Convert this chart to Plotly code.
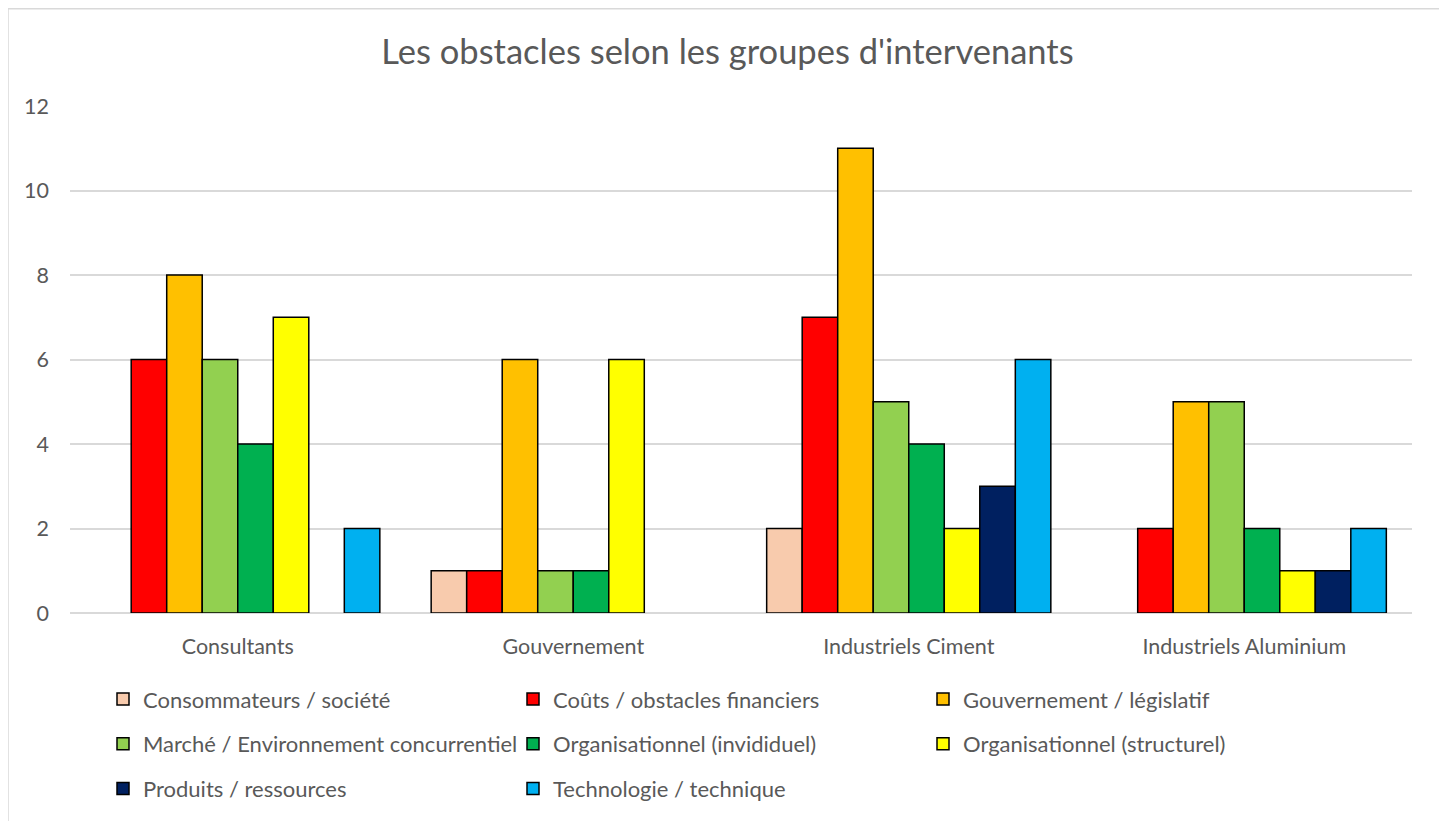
import plotly.graph_objects as go

# data
groups = ["Consultants", "Gouvernement", "Industriels Ciment", "Industriels Aluminium"]

consommateurs = [0, 1, 2, 0]
couts = [6, 1, 7, 2]
gouvernement = [8, 6, 11, 5]
marche = [6, 1, 5, 5]
org_individuel = [4, 1, 4, 2]
org_structurel = [7, 6, 2, 1]
produits = [0, 0, 3, 1]
technologie = [2, 0, 6, 2]

series = [
    ("Consommateurs / société", consommateurs, "#F8CBAD", "legend"),
    ("Coûts / obstacles financiers", couts, "#FF0000", "legend"),
    ("Gouvernement / législatif", gouvernement, "#FFC000", "legend"),
    ("Marché / Environnement concurrentiel", marche, "#92D050", "legend2"),
    ("Organisationnel (invididuel)", org_individuel, "#00B050", "legend2"),
    ("Organisationnel (structurel)", org_structurel, "#FFFF00", "legend2"),
    ("Produits / ressources", produits, "#002060", "legend3"),
    ("Technologie / technique", technologie, "#00B0F0", "legend3"),
]

# page body adds an 8px margin, so the figure is shifted by OFF
OFF = 8
W, H = 1447 - OFF, 821 - OFF
L, R, T, B = 70 - OFF, 35, 106 - OFF, 204
pw, ph = W - L - R, H - T - B


def px_x(x):  # reference pixel -> paper x
    return (x - OFF - L) / pw


def px_y(y):  # reference pixel -> paper y
    return (T + ph - (y - OFF)) / ph


fig = go.Figure()
for name, vals, color, leg in series:
    # zero counts draw no bar at all (like Excel), not a flat outline
    fig.add_trace(go.Bar(
        x=groups, y=[v if v else None for v in vals], name=name, legend=leg,
        marker=dict(color=color, line=dict(color="black", width=1.5)),
    ))

font = "Lato, Open Sans, sans-serif"
txt = "#595959"


def legend_at(y):
    return dict(
        orientation="h", x=px_x(103), xanchor="left",
        y=px_y(y), yanchor="middle",
        entrywidth=365, entrywidthmode="pixels",
        font=dict(family=font, size=22, color=txt),
        bgcolor="rgba(0,0,0,0)", itemclick=False,
    )


fig.update_layout(
    width=W, height=H,
    margin=dict(l=L, r=R, t=T, b=B),
    paper_bgcolor="white", plot_bgcolor="white",
    barmode="group", bargap=0.153, bargroupgap=0,
    title=dict(text="Les obstacles selon les groupes d'intervenants",
               x=0.5, xanchor="center", y=1 - (52 - OFF) / H, yanchor="middle",
               font=dict(family=font, size=34.5, color=txt)),
    font=dict(family=font, size=21.5, color=txt),
    xaxis=dict(showgrid=False, showline=False, ticks="", ticklabelstandoff=18,
               tickfont=dict(size=21.5, color=txt)),
    yaxis=dict(range=[0, 12], dtick=2, showgrid=True, gridcolor="#D9D9D9",
               gridwidth=1.5, zeroline=True, zerolinecolor="#D9D9D9",
               zerolinewidth=1.5, ticks="", ticklabelstandoff=20,
               tickfont=dict(size=21.5, color=txt)),
    legend=legend_at(704),
    legend2=legend_at(749),
    legend3=legend_at(794),
    shapes=[dict(type="rect", xref="paper", yref="paper",
                 x0=px_x(8), x1=px_x(1441),
                 y0=px_y(860), y1=px_y(8),
                 line=dict(color="#D9D9D9", width=1.5), layer="below")],
)

fig.write_html("out.html")
